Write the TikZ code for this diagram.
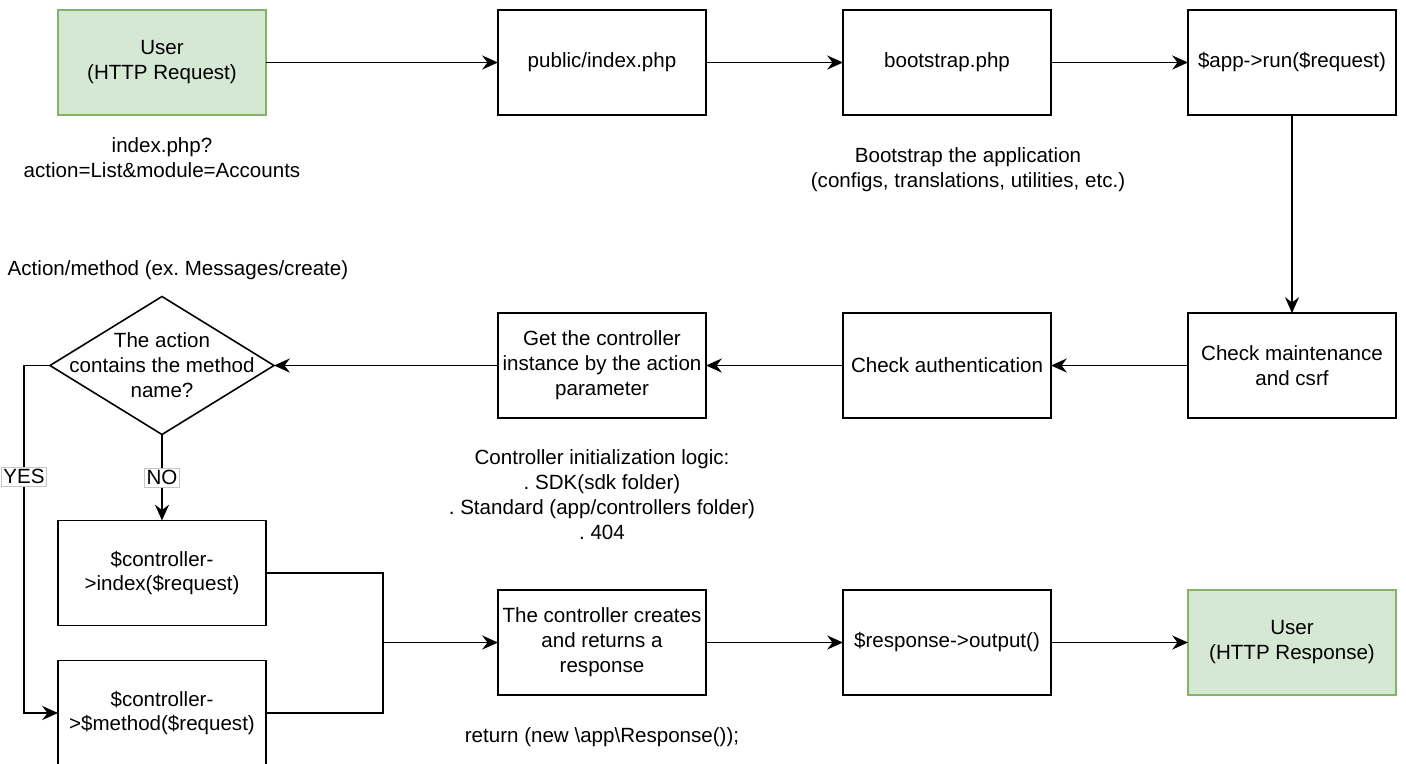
\documentclass[tikz,border=0pt]{standalone}
\usepackage{fontspec}
\setmainfont{Liberation Sans}
\usetikzlibrary{positioning,shapes.geometric,arrows.meta}
\definecolor{usergreen}{HTML}{D5E8D4}
\definecolor{userborder}{HTML}{82B366}
\frenchspacing
\begin{document}
\begin{tikzpicture}[font=\fontsize{11.7}{14.2}\selectfont,
process/.style={draw, line width=0.9pt, minimum width=4.16cm, minimum height=2.1cm, align=center, inner sep=1pt, outer sep=0pt},
terminal/.style={process, fill=usergreen, draw=userborder},
decision/.style={diamond, draw, line width=0.9pt, minimum width=4.48cm, minimum height=2.76cm, inner sep=0pt, outer sep=0pt},
note/.style={align=center},
answer/.style={fill=white, draw=gray!45, line width=0.4pt, inner sep=1.2pt},
flow/.style={line width=0.9pt, -{Stealth[length=9pt,width=8pt,inset=3pt]}}]
\useasboundingbox (0,0) rectangle (28.12,-15.26);
\node (UReq) [terminal] at (3.24,-1.25) {User\\(HTTP Request)}; \node (Index) [process, right=4.64cm of UReq] {public/index.php};
\node (Boot) [process, right=2.74cm of Index] {bootstrap.php}; \node (Run) [process, right=2.74cm of Boot] {\$app->run(\$request)};
\node (Maint) [process, below=3.96cm of Run] {Check maintenance\\and csrf}; \node (Auth) [process, left=2.74cm of Maint] {Check authentication};
\node (Ctrl) [process, left=2.74cm of Auth] {Get the controller\\instance by the action\\parameter};
\node (Q) [decision, left=4.48cm of Ctrl, label={[align=center]center:The action\\contains the method\\name?}] {};
\node (IdxCall) [process, below=1.72cm of Q] {\$controller-\\>index(\$request)}; \node (MethCall) [process, below=0.7cm of IdxCall] {\$controller-\\>\$method(\$request)};
\node (Creates) [process, below=3.44cm of Ctrl] {The controller creates\\and returns a\\response}; \node (Resp) [process, right=2.74cm of Creates] {\$response->output()};
\node (UResp) [terminal, right=2.74cm of Resp] {User\\(HTTP Response)};
% notes
\node (ReqNote) [note] at (3.24,-3.16) {index.php?\\action=List\&module=Accounts}; \node (BootNote) [note] at (19.36,-3.40) {Bootstrap the application\\(configs, translations, utilities, etc.)};
\node (ActNote) [note] at (3.56,-5.40) {Action/method (ex. Messages/create)};
\node (CtrlNote) [note] at (12.04,-9.9) {Controller initialization logic:\\. SDK(sdk folder)\\. Standard (app/controllers folder)\\. 404};
\node (RetNote) [note] at (12.04,-14.74) {return (new \textbackslash app\textbackslash Response());};
\coordinate [left=2.3cm of Creates.west] (join);
\draw[flow] (UReq) -- (Index); \draw[flow] (Index) -- (Boot); \draw[flow] (Boot) -- (Run); \draw[flow] (Run) -- (Maint);
\draw[flow] (Maint) -- (Auth); \draw[flow] (Auth) -- (Ctrl); \draw[flow] (Ctrl) -- (Q.east);
\draw[flow] (Q.south) -- node[answer] {NO} (IdxCall.north);
\draw[flow] (Q.west) -- ++(-0.52,0) |- node[answer, pos=0.16] {YES} (MethCall.west);
\draw[line width=0.9pt] (IdxCall.east) -| (join); \draw[line width=0.9pt] (MethCall.east) -| (join); \draw[flow] (join) -- (Creates.west);
\draw[flow] (Creates) -- (Resp); \draw[flow] (Resp) -- (UResp);
\end{tikzpicture}
\end{document}
